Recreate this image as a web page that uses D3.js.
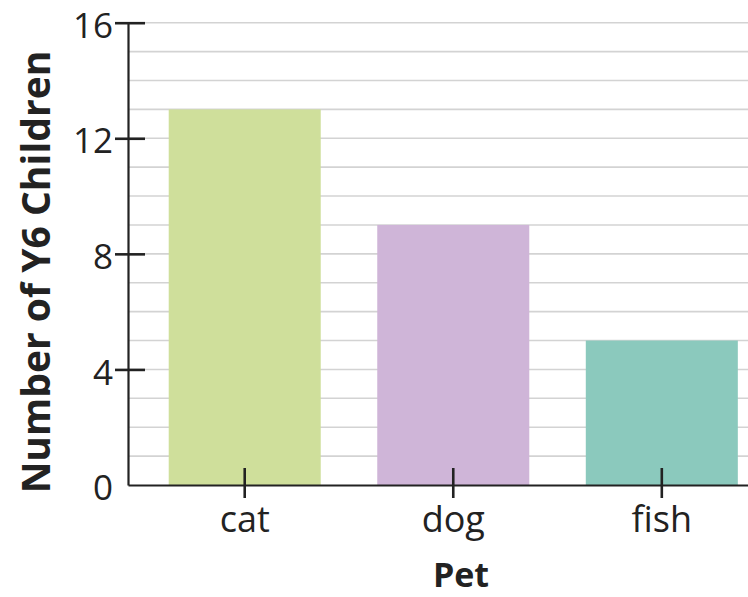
<!DOCTYPE html>
<html><head><meta charset="utf-8">
<script src="https://cdn.jsdelivr.net/npm/d3@7"></script>
<style>body{margin:0;background:#fff}svg{display:block}</style>
</head><body>
<svg id="c" width="748" height="597"></svg>
<script>
const categories = ["cat", "dog", "fish"];
const values = [13, 9, 5];
const colors = ["#cfdf9b", "#cfb5d8", "#8bc9bd"];
const yTicks = [0, 4, 8, 12, 16];
const gridValues = d3.range(1, 17);
const xTitle = "Pet";
const yTitle = "Number of Y6 Children";

const svg = d3.select("#c");
const font = "'Open Sans', sans-serif";
const ink = "#222";
const x0 = 128, x1 = 748, yBase = 485, yTop = 22.7;

const y = d3.scaleLinear().domain([0, 16]).range([yBase, yTop]);
const x = d3.scaleBand().domain(categories).range([x0, x1])
  .paddingInner(0.271).paddingOuter(0.122).align(0.8);

// gridlines
svg.append("g").selectAll("line").data(gridValues).join("line")
  .attr("x1", x0).attr("x2", x1)
  .attr("y1", d => y(d)).attr("y2", d => y(d))
  .attr("stroke", "#d3d3d3").attr("stroke-width", 1.6);

// bars
svg.append("g").selectAll("rect").data(categories).join("rect")
  .attr("x", d => x(d)).attr("width", x.bandwidth())
  .attr("y", (d, i) => y(values[i])).attr("height", (d, i) => yBase - y(values[i]))
  .attr("fill", (d, i) => colors[i]);

// y axis
const gy = svg.append("g").attr("transform", `translate(${x0},0)`)
  .call(d3.axisLeft(y).tickValues(yTicks).tickSize(13).tickSizeOuter(0).tickPadding(2));
gy.select(".domain").attr("stroke", ink).attr("stroke-width", 2.2);
gy.selectAll(".tick line").attr("x1", 17).attr("stroke", ink).attr("stroke-width", 2.6)
  .filter(d => d === 0).remove();
gy.selectAll(".tick text").attr("font-family", font).attr("font-size", 35)
  .attr("fill", ink).attr("dy", "0.42em");

// x axis
const gx = svg.append("g").attr("transform", `translate(0,${yBase})`)
  .call(d3.axisBottom(x).tickSize(13).tickSizeOuter(0).tickPadding(0));
gx.select(".domain").attr("stroke", ink).attr("stroke-width", 2.2);
gx.selectAll(".tick line").attr("y1", -17).attr("stroke", ink).attr("stroke-width", 2.6);
gx.selectAll(".tick text").attr("font-family", font).attr("font-size", 36)
  .attr("fill", ink).attr("y", 47).attr("dy", 0);

// titles
svg.append("text").attr("x", 461).attr("y", 587).attr("text-anchor", "middle")
  .attr("font-family", font).attr("font-weight", 700).attr("font-size", 34)
  .attr("fill", ink).text(xTitle);
svg.append("text").attr("transform", "translate(50,272) rotate(-90)")
  .attr("text-anchor", "middle")
  .attr("font-family", font).attr("font-weight", 700).attr("font-size", 39)
  .attr("fill", ink).text(yTitle);
</script>
</body></html>
